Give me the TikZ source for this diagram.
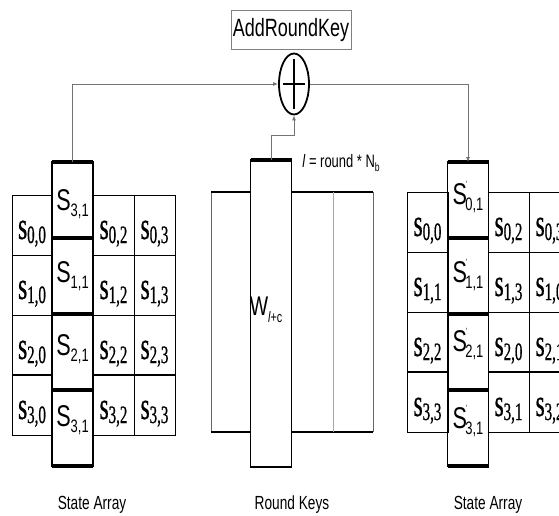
\documentclass[tikz,border=0pt]{standalone}
\usepackage{fontspec}
\newfontfamily\sansc[FakeStretch=0.72]{Liberation Sans}
\newfontfamily\serifc[FakeStretch=0.6,FakeBold=0.6]{Liberation Serif}
\usetikzlibrary{arrows.meta,shapes.geometric,positioning}

% state bytes: small serif s, bold sans S in the shifted column
\newcommand{\scell}[1]{{\serifc\fontsize{39}{39}\selectfont s\raisebox{-4pt}{\fontsize{25}{25}\selectfont #1}}}
\newcommand{\Scell}[1]{{\sansc\fontsize{30}{30}\selectfont S\raisebox{-6pt}{\fontsize{18}{18}\selectfont #1}}}
\newcommand{\Spcell}[1]{{\sansc\fontsize{30}{30}\selectfont S\kern-1pt\raisebox{17pt}{\fontsize{9}{9}\selectfont '}\kern-2pt\raisebox{-6pt}{\fontsize{18}{18}\selectfont #1}}}

\begin{document}
\begin{tikzpicture}[x=1pt,y=-1pt,
  grid/.style={line width=0.8pt},
  rowline/.style={line width=1.5pt},
  tallside/.style={line width=1.8pt},
  tallcap/.style={line width=3.6pt},
  tallcell/.style={minimum width=41pt,minimum height=76pt,inner sep=0pt,outer sep=0pt},
  link/.style={draw=black!55,line width=0.8pt,-{Latex[length=5pt,width=4pt]}},
  caption/.style={font=\sansc\fontsize{19}{19}\selectfont}]
\clip (0,0) rectangle (559,516);
\fill[white] (0,0) rectangle (559,516);

% left state array
\begin{scope}[shift={(12,195)}]
\draw[grid] (0,0) rectangle (40,240);
\draw[grid] (81,0) rectangle (163,240);
\draw[grid] (122,0) -- (122,240);
\foreach \y in {60,120} \draw[grid] (0,\y) -- (40,\y) (81,\y) -- (163,\y);
\draw[rowline] (0,180) -- (40,180) (81,180) -- (163,180);
\foreach \r in {0,...,3} {
  \node[anchor=base] (ls\r a) at (20,60*\r+44) {\scell{\r,0}};
  \node[anchor=base] (ls\r b) at (101.5,60*\r+44) {\scell{\r,2}};
  \node[anchor=base] (ls\r c) at (142.5,60*\r+44) {\scell{\r,3}};
}
\node[tallcell,anchor=north] (la0) at (60.5,-33) {};
\node[tallcell,below=0pt of la0] (la1) {};
\node[tallcell,below=0pt of la1] (la2) {};
\node[tallcell,below=0pt of la2] (la3) {};
\draw[tallside] (la0.north west) rectangle (la3.south east);
\foreach \c in {0,...,3} \draw[tallcap] (la\c.north west) -- (la\c.north east);
\draw[tallcap] (la3.south west) -- (la3.south east);
\node[anchor=base] (lt0) at ([yshift=-48pt]la0.north) {\Scell{3,1}};
\node[anchor=base] (lt1) at ([yshift=-44pt]la1.north) {\Scell{1,1}};
\node[anchor=base] (lt2) at ([yshift=-41pt]la2.north) {\Scell{2,1}};
\node[anchor=base] (lt3) at ([yshift=-36pt]la3.north) {\Scell{3,1}};
\end{scope}
\node[caption] (lcap) at (92,505) {State Array};

% round key words
\draw[line width=0.6pt,black!60] (211,192) -- (211,432) (373,192) -- (373,432);
\draw[line width=1.6pt] (211,192) -- (373,192) (211,432) -- (373,432);
\draw[line width=0.7pt,black!35] (333,192) -- (333,432);
\node[tallcell,minimum height=307pt,anchor=north] (kc) at (271,160) {};
\fill[white] (kc.north west) rectangle (kc.south east);
\draw[tallside] (kc.north west) rectangle (kc.south east);
\draw[tallcap] (kc.north west) -- (kc.north east);
\draw[line width=2.6pt] (kc.south west) -- (kc.south east);
\node (wk) at (266,310) {\sansc\fontsize{27}{27}\selectfont W\raisebox{-7pt}{\fontsize{15}{15}\selectfont\itshape l\upshape+c}};
\node (lnb) at (341,163) {\sansc\fontsize{18}{18}\selectfont\textit{l} = round * N\raisebox{-4pt}{\fontsize{12}{12}\selectfont b}};
\node[caption] (kcap) at (292,505) {Round Keys};

% xor with the round key
\node[draw=black!50,line width=0.6pt,minimum width=120pt,minimum height=39pt,inner sep=0pt] (ark) at (291,30)
  {\sansc\fontsize{25}{25}\selectfont AddRoundKey};
\node[ellipse,draw,line width=1.8pt,minimum width=30pt,minimum height=61pt,inner sep=0pt] (xor) at (294,84) {};
\draw[line width=2.8pt] ([xshift=-11pt]xor.center) -- ([xshift=11pt]xor.center);
\draw[line width=1.8pt] ([yshift=25pt]xor.center) -- ([yshift=-25pt]xor.center);

% right state array
\begin{scope}[shift={(407,192)}]
\draw[grid] (0,0) rectangle (41,240);
\draw[grid] (81,0) rectangle (163,240);
\draw[grid] (122,0) -- (122,240);
\foreach \y in {60,120} \draw[grid] (0,\y) -- (41,\y) (81,\y) -- (163,\y);
\draw[rowline] (0,180) -- (41,180) (81,180) -- (163,180);
\foreach \r/\a/\b/\c in {0/0/2/3,1/1/3/0,2/2/0/1,3/3/1/2} {
  \node[anchor=base] (rs\r a) at (20.5,60*\r+44) {\scell{\r,\a}};
  \node[anchor=base] (rs\r b) at (101.5,60*\r+44) {\scell{\r,\b}};
  \node[anchor=base] (rs\r c) at (142.5,60*\r+44) {\scell{\r,\c}};
}
\node[tallcell,anchor=north] (ra0) at (61,-30) {};
\node[tallcell,below=0pt of ra0] (ra1) {};
\node[tallcell,below=0pt of ra1] (ra2) {};
\node[tallcell,below=0pt of ra2] (ra3) {};
\draw[tallside] (ra0.north west) rectangle (ra3.south east);
\foreach \c in {0,...,3} \draw[tallcap] (ra\c.north west) -- (ra\c.north east);
\draw[tallcap] (ra3.south west) -- (ra3.south east);
\node[anchor=base] (rt0) at ([yshift=-42pt]ra0.north) {\Spcell{0,1}};
\node[anchor=base] (rt1) at ([yshift=-44pt]ra1.north) {\Spcell{1,1}};
\node[anchor=base] (rt2) at ([yshift=-37pt]ra2.north) {\Spcell{2,1}};
\node[anchor=base] (rt3) at ([yshift=-38pt]ra3.north) {\Spcell{3,1}};
\end{scope}
\node[caption] (rcap) at (488,505) {State Array};

% data paths
\draw[link] (la0.north) |- (xor.west);
\draw[link] (kc.north) -- ++(0,-25) -| (xor.south);
\draw[link] (xor.east) -| (ra0.north);
\end{tikzpicture}
\end{document}
